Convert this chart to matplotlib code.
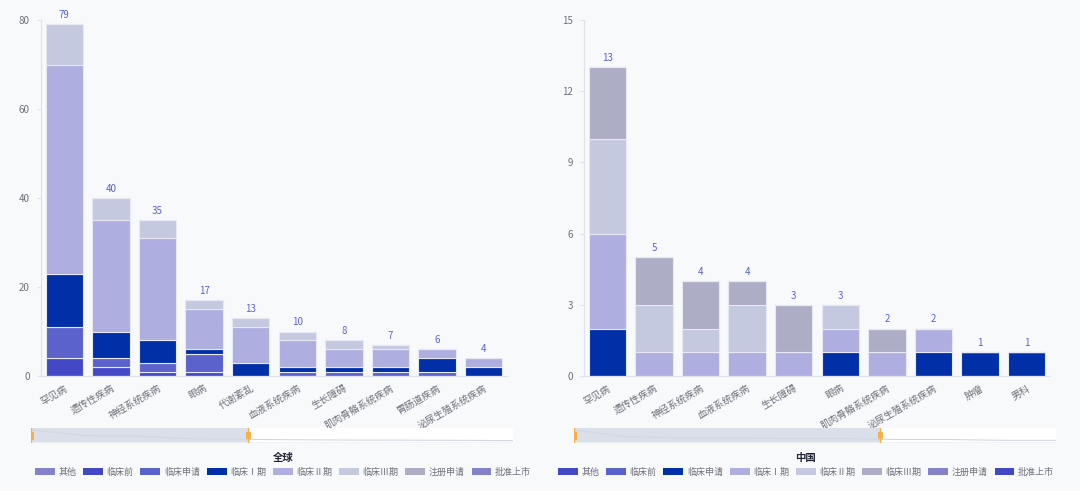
import matplotlib.pyplot as plt
from matplotlib.patches import Rectangle, FancyBboxPatch
import numpy as np

plt.rcParams['font.family'] = ['Noto Sans CJK SC', 'DejaVu Sans']

series_names = ['其他', '临床前', '临床申请', '临床Ⅰ期', '临床Ⅱ期', '临床Ⅲ期', '注册申请', '批准上市']

# 全球
global_cats = ['罕见病', '遗传性疾病', '神经系统疾病', '眼病', '代谢紊乱', '血液系统疾病',
               '生长障碍', '肌肉骨骼系统疾病', '胃肠道疾病', '泌尿生殖系统疾病']
g_other = [0, 0, 0, 0, 0, 0, 0, 0, 0, 0]
g_preclin = [4, 2, 1, 1, 0, 0, 0, 0, 0, 0]
g_ind = [7, 2, 2, 4, 0, 1, 1, 1, 1, 0]
g_p1 = [12, 6, 5, 1, 3, 1, 1, 1, 3, 2]
g_p2 = [47, 25, 23, 9, 8, 6, 4, 4, 2, 2]
g_p3 = [9, 5, 4, 2, 2, 2, 2, 1, 0, 0]
g_nda = [0, 0, 0, 0, 0, 0, 0, 0, 0, 0]
g_appr = [0, 0, 0, 0, 0, 0, 0, 0, 0, 0]

# 中国
china_cats = ['罕见病', '遗传性疾病', '神经系统疾病', '血液系统疾病', '生长障碍', '眼病',
              '肌肉骨骼系统疾病', '泌尿生殖系统疾病', '肿瘤', '男科']
c_other = [0, 0, 0, 0, 0, 0, 0, 0, 0, 0]
c_preclin = [0, 0, 0, 0, 0, 0, 0, 0, 0, 0]
c_ind = [2, 0, 0, 0, 0, 1, 0, 1, 1, 1]
c_p1 = [4, 1, 1, 1, 1, 1, 1, 1, 0, 0]
c_p2 = [4, 2, 1, 2, 0, 1, 0, 0, 0, 0]
c_p3 = [3, 2, 2, 1, 2, 0, 1, 0, 0, 0]
c_nda = [0, 0, 0, 0, 0, 0, 0, 0, 0, 0]
c_appr = [0, 0, 0, 0, 0, 0, 0, 0, 0, 0]

global_colors = ['#8482c9', '#4349c6', '#5b62cc', '#002fa7', '#aeaee0', '#c4c9e0', '#aeadc6', '#8482c9']
china_colors = ['#4349c6', '#5b62cc', '#002fa7', '#aeaee0', '#c4c9e0', '#aeadc6', '#8482c9', '#4349c6']

bg = '#f8f9fb'
W, H = 1080, 491
fig = plt.figure(figsize=(W / 100, H / 100), dpi=100, facecolor=bg)


def fx(px):
    return px / W


def fy(py):
    return 1 - py / H


def panel(x0, x1, cats, data, colors, ymax, yticks, title, sel_end, leg_center):
    ax = fig.add_axes([fx(x0), fy(376), fx(x1 - x0), (376 - 20) / H])
    ax.set_facecolor(bg)
    x = np.arange(len(cats))
    bottom = np.zeros(len(cats))
    for vals, col in zip(data, colors):
        vals = np.array(vals, dtype=float)
        ax.bar(x, vals, bottom=bottom, width=0.8, color=col, edgecolor='#e6e8f3', linewidth=0.8)
        bottom += vals
    for xi, tot in zip(x, bottom):
        ax.text(xi, tot + ymax * 0.012, f'{int(tot)}', ha='center', va='bottom',
                fontsize=7, color='#5b62cc')
    ax.set_xlim(-0.5, len(cats) - 0.5)
    ax.set_ylim(0, ymax)
    ax.set_yticks(yticks)
    ax.set_xticks(x)
    ax.set_xticklabels(cats, rotation=30, ha='right', rotation_mode='anchor',
                       fontsize=7, color='#6e7079')
    ax.tick_params(axis='y', labelsize=7, labelcolor='#6e7079', color='#e0e3ea', length=3, pad=5)
    ax.tick_params(axis='x', length=0, pad=5)
    for s in ['top', 'right']:
        ax.spines[s].set_visible(False)
    for s in ['left', 'bottom']:
        ax.spines[s].set_color('#e0e3ea')
        ax.spines[s].set_linewidth(0.9)

    # data zoom slider
    sx0, sx1 = x0 - 10, x1 + 6
    sl = fig.add_axes([fx(sx0), fy(443), fx(sx1 - sx0), 15 / H])
    sl.set_facecolor('#ffffff')
    sl.set_xlim(0, 1)
    sl.set_ylim(0, 1)
    sl.axis('off')
    sl.add_patch(Rectangle((0, 0), 1, 1, facecolor='#ffffff', edgecolor='none'))
    shadow_x = np.linspace(0, 1, len(cats))
    shadow_y = np.array(bottom) / max(bottom) * 0.75 + 0.12
    sl.plot(shadow_x, shadow_y, color='#d2d7e2', lw=0.8)
    sl.plot([0, 1], [0.02, 0.02], color='#eef0f4', lw=1.2)
    frac = (sel_end - sx0) / (sx1 - sx0)
    sl.add_patch(Rectangle((0, 0), frac, 1, facecolor='#d4dae6', alpha=0.85, edgecolor='none'))
    for hx in [0.0, frac]:
        sl.plot([hx, hx], [0.0, 1.0], color='#f5b041', lw=1.0)
        sl.add_patch(Rectangle((hx - 0.005, 0.25), 0.01, 0.5, facecolor='#f7b64a',
                               edgecolor='#f5a623', lw=0.5))

    fig.text(fx(leg_center), fy(458), title, ha='center', va='center', fontsize=7.5,
             fontweight='bold', color='#1f2333')

    handles = [FancyBboxPatch((0, 0), 1, 1, boxstyle='round,pad=0,rounding_size=0.2',
                              facecolor=c, edgecolor='none') for c in colors]
    fig.legend(handles, series_names, loc='center', bbox_to_anchor=(fx(leg_center), fy(472)),
               ncol=8, frameon=False, fontsize=6.5, labelcolor='#6e7079',
               handlelength=2.2, handleheight=0.9, handletextpad=0.4, columnspacing=0.75)


panel(41, 507, global_cats, [g_other, g_preclin, g_ind, g_p1, g_p2, g_p3, g_nda, g_appr],
      global_colors, 80, [0, 20, 40, 60, 80], '全球', 248, 283)
panel(584, 1050, china_cats, [c_other, c_preclin, c_ind, c_p1, c_p2, c_p3, c_nda, c_appr],
      china_colors, 15, [0, 3, 6, 9, 12, 15], '中国', 880, 806)

fig.savefig('out.png', dpi=100, facecolor=bg)
